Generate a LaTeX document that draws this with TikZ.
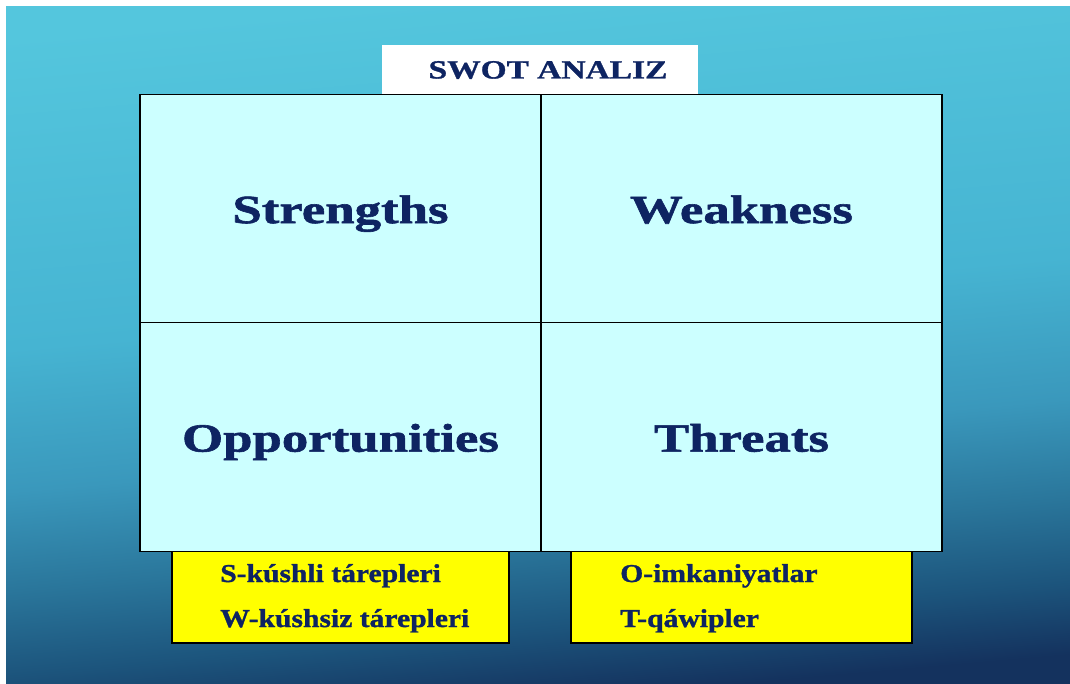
\documentclass[tikz,border=0pt]{standalone}
\usepackage{fontspec}
\newfontfamily\cellfont{Liberation Serif Bold}[FakeStretch=1.32, FakeBold=1.5]
\newfontfamily\titlefont{Liberation Serif Bold}[FakeStretch=1.28, FakeBold=1.2]
\newfontfamily\notefont{Liberation Serif Bold}[FakeStretch=1.15, FakeBold=1.2]
\definecolor{swotnavy}{RGB}{14,36,98}
\definecolor{swotcell}{RGB}{204,255,255}
\definecolor{swotyellow}{RGB}{255,255,0}
\definecolor{skytop}{RGB}{84,198,221}
\definecolor{skyup}{RGB}{70,180,210}
\definecolor{skymid}{RGB}{58,152,188}
\definecolor{skylow}{RGB}{42,118,155}
\definecolor{skydeep}{RGB}{28,84,124}
\definecolor{skybot}{RGB}{20,50,94}
% stops between 25bp and 75bp span the path
\pgfdeclareverticalshading{swotsky}{100bp}{color(0bp)=(skybot); color(25bp)=(skybot); color(30bp)=(skydeep); color(36bp)=(skylow); color(43bp)=(skymid); color(53bp)=(skyup); color(75bp)=(skytop); color(100bp)=(skytop)}
\tikzset{
	cell/.style={draw=black, line width=0.9pt, fill=swotcell, inner sep=0pt, outer sep=0pt,
		minimum width=300.75pt, minimum height=171.5pt, text height=28.5pt, text depth=6.6pt,
		text=swotnavy, font=\cellfont\fontsize{30}{32}\selectfont},
	notebox/.style={draw=black, line width=0.9pt, fill=swotyellow, inner sep=0pt, outer sep=0pt, minimum height=69pt},
	noteline/.style={anchor=base west, inner sep=0pt, text=swotnavy, font=\notefont\fontsize{19.3}{21}\selectfont}
}

\begin{document}
\begin{tikzpicture}[x=0.75pt, y=-0.75pt]
	\useasboundingbox (0,0) rectangle (1070,684);
	\shade[shading=swotsky, shading angle=5] (6,7) rectangle (1070,684);
	% title
		\node[fill=white, inner sep=0pt, minimum width=237pt, minimum height=36.75pt] (title) at (540,69.5) {};
		\node[text=swotnavy, inner sep=0pt, font=\titlefont\fontsize{19.6}{21}\selectfont] (titletext) at (548,70) {SWOT ANALIZ};
	% yellow notes
		\node[notebox, minimum width=252.75pt] (sbox) at (340.5,597) {};
		\node[notebox, minimum width=255.75pt] (obox) at (741.5,597) {};
		\node[noteline] (sline) at (220,582) {S-kúshli tárepleri};
		\node[noteline] (wline) at (220,627) {W-kúshsiz tárepleri};
		\node[noteline] (oline) at (620,582) {O-imkaniyatlar};
		\node[noteline] (tline) at (620,627) {T-qáwipler};
	% matrix
		\node[cell] (S) at (340.5,208.5) {Strengths};
		\node[cell] (W) at (741.5,208.5) {Weakness};
		\node[cell] (O) at (340.5,437) {Opportunities};
		\node[cell] (T) at (741.5,437) {Threats};
\end{tikzpicture}
\end{document}
